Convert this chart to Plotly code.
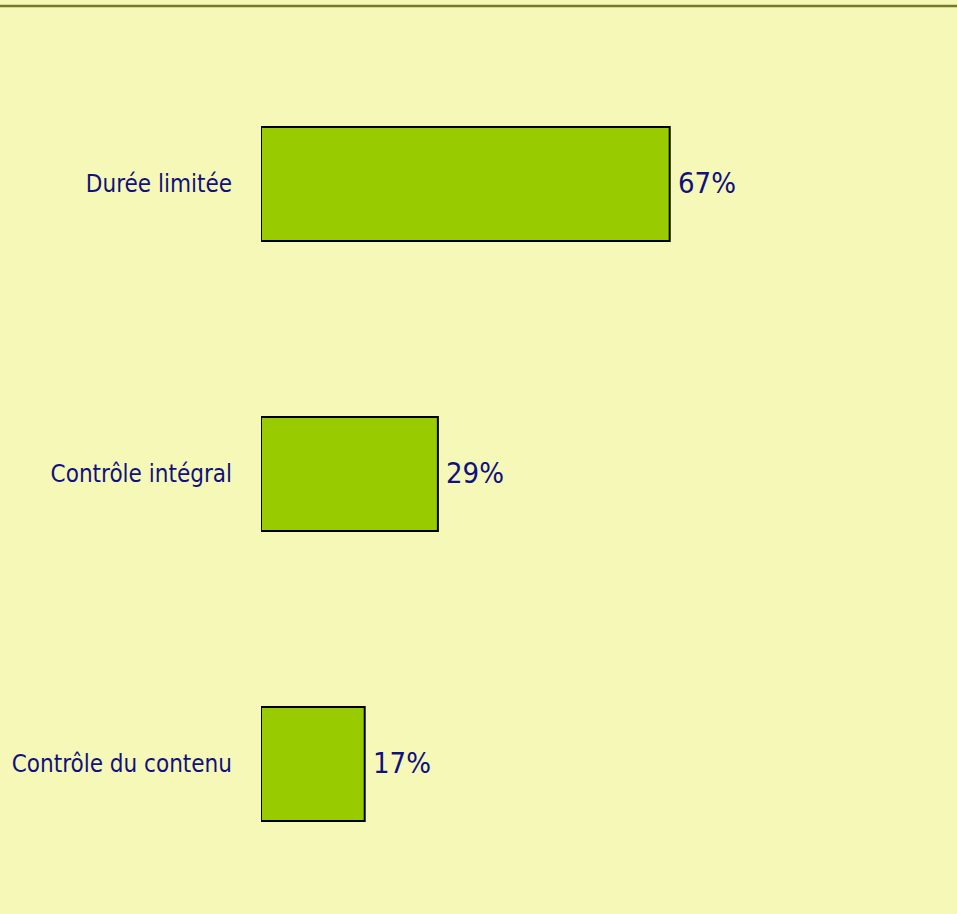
import plotly.graph_objects as go

categories = ["Durée limitée", "Contrôle intégral", "Contrôle du contenu"]
values = [67, 29, 17]
value_labels = ["67%", "29%", "17%"]

BG = "#F6F8B8"
NAVY = "#10107F"
FONT = "DejaVu Sans Condensed, sans-serif"
FS = 24

fig = go.Figure(go.Bar(
    y=categories, x=values, orientation="h",
    marker=dict(color="#99CC00", line=dict(color="#000000", width=2)),
    cliponaxis=False,
))
for cat, v, lab in zip(categories, values, value_labels):
    fig.add_annotation(x=v, y=cat, text=lab, showarrow=False, xanchor="left",
                       xshift=6, yshift=1,
                       font=dict(family=FONT, size=29, color=NAVY))

W, H = 957, 914
L, R, T, B = 261, 86, 39, 5
fig.update_layout(
    width=W, height=H,
    margin=dict(l=L, r=R, t=T, b=B, pad=0, autoexpand=False),
    paper_bgcolor=BG, plot_bgcolor=BG,
    bargap=0.607, showlegend=False,
    font=dict(family=FONT, size=FS, color=NAVY),
    xaxis=dict(range=[0, 100], visible=False, fixedrange=True, automargin=False),
    yaxis=dict(autorange="reversed", showgrid=False, zeroline=False, showline=False,
               ticks="", ticklabelstandoff=28, automargin=False, fixedrange=True,
               tickfont=dict(family=FONT, size=FS, color=NAVY)),
)
pw = W - L - R
ph = H - T - B
fig.add_shape(type="line", xref="paper", yref="paper",
              x0=-L / pw, x1=(W - L) / pw,
              y0=(H - B - 6) / ph, y1=(H - B - 6) / ph,
              line=dict(color="#727A2E", width=2.5))
fig.write_html("out.html", config={"displayModeBar": False},
               post_script="document.body.style.margin='0';")
